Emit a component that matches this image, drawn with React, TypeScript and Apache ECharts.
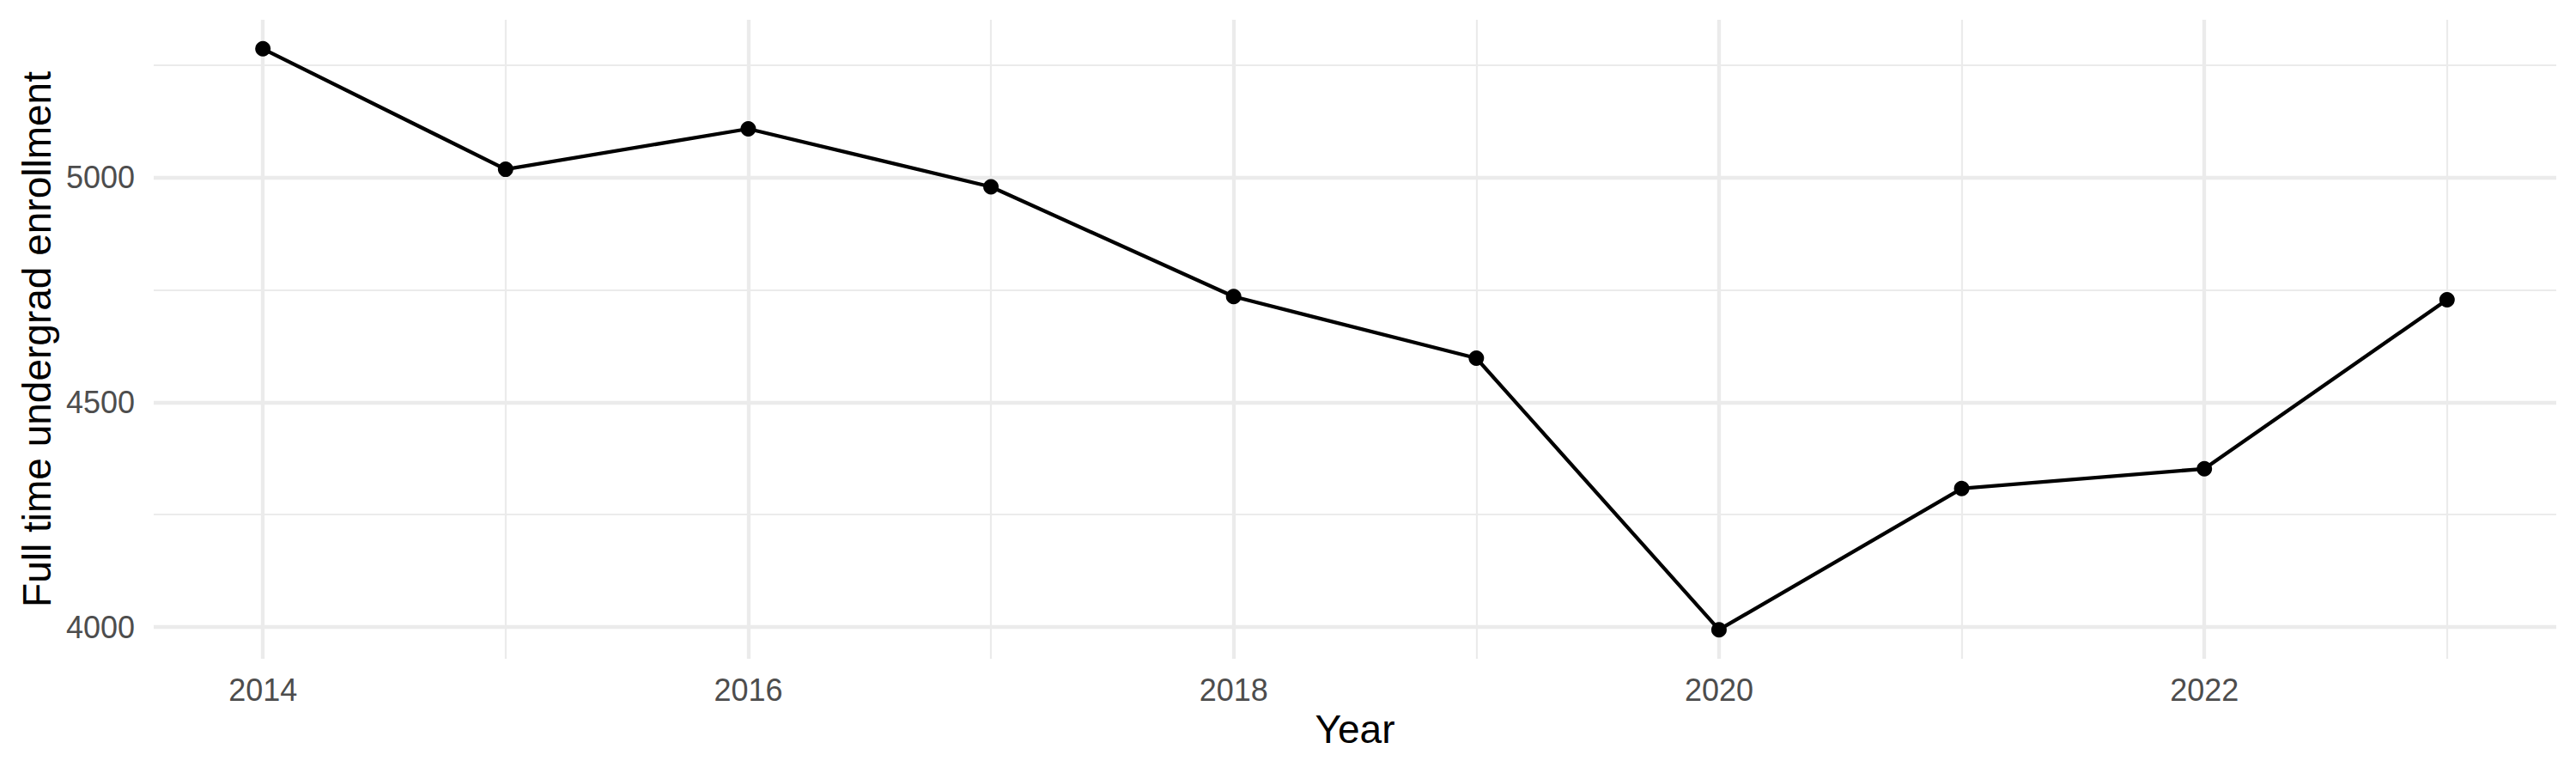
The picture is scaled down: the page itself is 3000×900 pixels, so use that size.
import React, { useEffect, useRef } from "react";
import * as echarts from "echarts/core";
import { LineChart } from "echarts/charts";
import { GridComponent } from "echarts/components";
import { SVGRenderer } from "echarts/renderers";

echarts.use([LineChart, GridComponent, SVGRenderer]);

// data
const years = [2014, 2015, 2016, 2017, 2018, 2019, 2020, 2021, 2022, 2023];
const enrollment = [5286, 5018, 5108, 4979, 4735, 4598, 3994, 4308, 4352, 4728];

// breaks (major + minor, like ggplot)
const yearBreaks = [2014, 2016, 2018, 2020, 2022];
const yearMinorBreaks = [2015, 2017, 2019, 2021, 2023];
const enrollmentBreaks = [4000, 4500, 5000];
const enrollmentMinorBreaks = [4250, 4750, 5250];

const FONT = "'Liberation Sans', Arial, Helvetica, sans-serif";
const GRID_COLOR = "#ebebeb";

// ggplot default expansion: 5% of range for continuous scale
const expand = (vals: number[]) => {
  const lo = Math.min(...vals);
  const hi = Math.max(...vals);
  const pad = (hi - lo) * 0.05;
  return [lo - pad, hi + pad];
};

const App: React.FC = () => {
  const chartRef = useRef<HTMLDivElement>(null);

  useEffect(() => {
    if (!chartRef.current) return;
    const chart = echarts.init(chartRef.current, null, { renderer: "svg" });

    const [xMin, xMax] = expand(years);
    const [yMin, yMax] = expand(enrollment);

    chart.setOption({
      animation: false,
      backgroundColor: "#ffffff",
      grid: { left: 179, right: 23, top: 23, bottom: 133 },
      xAxis: [
        {
          type: "value",
          min: xMin,
          max: xMax,
          name: "Year",
          nameLocation: "middle",
          nameGap: 58,
          nameTextStyle: { fontFamily: FONT, fontSize: 46, color: "#000000" },
          axisLine: { show: false },
          axisTick: { show: false, customValues: yearBreaks },
          axisLabel: {
            customValues: yearBreaks,
            formatter: (v: number) => String(v),
            fontFamily: FONT,
            fontSize: 36,
            color: "#4d4d4d",
            margin: 18,
          },
          splitLine: { show: true, lineStyle: { color: GRID_COLOR, width: 4.3 } },
        },
        {
          type: "value",
          min: xMin,
          max: xMax,
          position: "bottom",
          axisLine: { show: false },
          axisTick: { show: false, customValues: yearMinorBreaks },
          axisLabel: { show: false, customValues: yearMinorBreaks },
          splitLine: { show: true, lineStyle: { color: GRID_COLOR, width: 2.2 } },
        },
      ],
      yAxis: [
        {
          type: "value",
          min: yMin,
          max: yMax,
          name: "Full time undergrad enrollment",
          nameLocation: "middle",
          nameGap: 104,
          nameTextStyle: { fontFamily: FONT, fontSize: 46, color: "#000000" },
          axisLine: { show: false },
          axisTick: { show: false, customValues: enrollmentBreaks },
          axisLabel: {
            customValues: enrollmentBreaks,
            formatter: (v: number) => String(v),
            fontFamily: FONT,
            fontSize: 36,
            color: "#4d4d4d",
            margin: 22,
          },
          splitLine: { show: true, lineStyle: { color: GRID_COLOR, width: 4.3 } },
        },
        {
          type: "value",
          min: yMin,
          max: yMax,
          position: "left",
          axisLine: { show: false },
          axisTick: { show: false, customValues: enrollmentMinorBreaks },
          axisLabel: { show: false, customValues: enrollmentMinorBreaks },
          splitLine: { show: true, lineStyle: { color: GRID_COLOR, width: 2.2 } },
        },
      ],
      series: [
        {
          type: "line",
          xAxisIndex: 0,
          yAxisIndex: 0,
          data: years.map((y, i) => [y, enrollment[i]]),
          symbol: "circle",
          symbolSize: 18,
          showSymbol: true,
          lineStyle: { color: "#000000", width: 4.3 },
          itemStyle: { color: "#000000" },
          z: 10,
        },
      ],
    });

    return () => {
      chart.dispose();
    };
  }, []);

  return (
    <div
      ref={chartRef}
      style={{ position: "fixed", left: 0, top: 0, width: 3000, height: 900, background: "#fff" }}
    ></div>
  );
};

export default App;
